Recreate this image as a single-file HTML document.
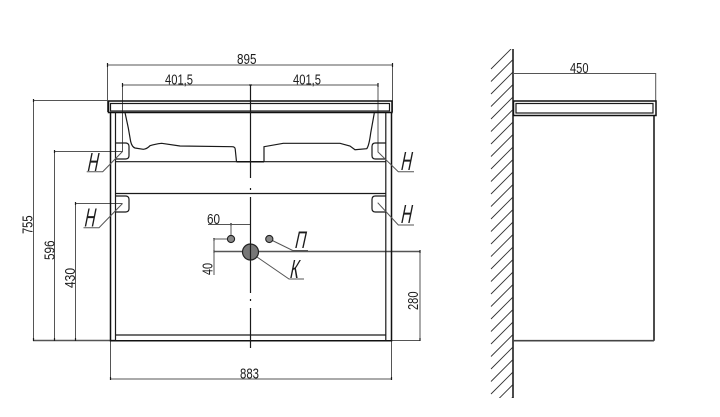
<!DOCTYPE html>
<html>
<head>
<meta charset="utf-8">
<style>
html,body{margin:0;padding:0;background:#fff}
svg{display:block}
text{font-family:"Liberation Sans",sans-serif;fill:#1c1c1c}
.n{font-size:14.500px}
.t{fill:none;stroke:#555;stroke-width:1}
.k{fill:none;stroke:#1a1a1a;stroke-width:1.2}
.b{fill:none;stroke:#111;stroke-width:1.5}
</style>
</head>
<body>
<svg width="720" height="417" viewBox="0 0 720 417" xmlns="http://www.w3.org/2000/svg">
<defs><clipPath id="c"><rect x="485" y="49" width="28" height="349"/></clipPath></defs>

<!-- dimension lines: front -->
<path class="t" d="M107.5 112V65H392.500V112"/>
<path class="t" d="M122.500 152V85H378V152"/>
<path class="t" d="M33.500 340.500V100.500H108"/>
<path class="t" d="M54.500 340.500V151.500H122.500"/>
<path class="t" d="M75.500 340.500V203.500H122.500"/>
<path class="t" d="M33 340.500H116" style="stroke-width:1.400"/>
<path class="t" d="M110.500 340V379H391.500V340"/>
<path class="t" d="M386 340.500H420V251.500"/>
<path class="t" d="M214 251.500H420" style="stroke-width:1.400"/>

<!-- ticks -->
<path class="k" d="M107.500 63v4M392.500 63v4M122.500 83v4M378 83v4M249 85h3M33.500 99v3M54.500 150v3M75.500 202v3M33.500 338v3M54.500 338v3M75.500 338v3M110.500 377v3M391.500 377v3M420 250v3M420 338v3M214 238v3M214 250v3M231 223v3"/>

<!-- worktop -->
<rect class="b" x="108.500" y="101" width="283.500" height="11.500"/>
<rect class="k" x="110.500" y="103.500" width="279" height="7.500"/>

<!-- cabinet -->
<path class="b" d="M110.500 112.500V340.700H391.500V112.500"/>
<path class="k" d="M115.500 112.500V340.500M385.800 112.500V340.500"/>
<path class="k" d="M115.500 335H385.800"/>
<path class="k" d="M115.500 161.700H236.500M264 161.700H385.800"/>
<path class="b" d="M236.500 161.700H264"/>
<path class="k" d="M115.500 193.500H385.800"/>

<!-- basin -->
<path class="k" d="M125 112.500L128.300 128L130.700 141.700Q132 147 135 148L143.300 149.300Q147 149 150 145.700Q155 144 161.700 143.300L180 146L232 146.700Q235 146.700 235.200 149L236.500 161.700M264 161.700L264 146.700L283.300 143.300H340L350 146L355 149.700L366.700 148.700Q369 146 370.700 133L374.300 113"/>

<!-- brackets -->
<path class="k" d="M115.500 143H125.500Q129 143 129 146.500V155.500Q129 159 125.500 159H115.500"/>
<path class="k" d="M115.500 196H125.500Q129 196 129 199.500V208.500Q129 212 125.500 212H115.500"/>
<path class="k" d="M385.500 143H375.500Q372 143 372 146.500V155.500Q372 159 375.500 159H385.500"/>
<path class="k" d="M385.500 196H375.500Q372 196 372 199.500V208.500Q372 212 375.500 212H385.500"/>

<!-- leaders -->
<path class="t" d="M122.500 151.500L102.700 171.700H86.700"/>
<path class="t" d="M122.500 203.500L99 227.700H83.500"/>
<path class="t" d="M377.700 151.700L398.300 171.700H414"/>
<path class="t" d="M377.700 202.700L398.300 225H414"/>
<path class="t" d="M269.300 239L292.700 250.500H308"/>
<path class="t" d="M257 257L289 279H304"/>

<!-- holes -->
<path class="t" d="M208 224.500H250.500M231 224.500V239M214 239V275M214 239H231"/>
<circle cx="250.500" cy="252" r="8" fill="#777" stroke="#222" stroke-width="1.200"/>
<circle cx="231" cy="239" r="3.600" fill="#888" stroke="#222" stroke-width="1.100"/>
<circle cx="269.300" cy="239" r="3.600" fill="#888" stroke="#222" stroke-width="1.100"/>
<!-- centre line -->
<path class="k" d="M250.500 85V178M250.500 188V190M250.500 197V293M250.500 299V301M250.500 308V348"/>

<!-- side view -->
<path class="b" d="M513 49V398"/>
<g clip-path="url(#c)"><path fill="none" stroke="#333" stroke-width="0.9" d="M491 69l21.500-21.500M491 81.500l21.500-21.500M491 94l21.500-21.500M491 106.500l21.500-21.500M491 119l21.500-21.500M491 131.500l21.500-21.500M491 144l21.500-21.500M491 156.500l21.500-21.500M491 169l21.500-21.500M491 181.500l21.500-21.500M491 194l21.500-21.500M491 206.500l21.500-21.500M491 219l21.500-21.500M491 231.500l21.500-21.500M491 244l21.500-21.500M491 256.500l21.500-21.500M491 269l21.500-21.500M491 281.500l21.500-21.500M491 294l21.500-21.500M491 306.500l21.500-21.500M491 319l21.500-21.500M491 331.500l21.500-21.500M491 344l21.500-21.500M491 356.500l21.500-21.500M491 369l21.500-21.500M491 381.500l21.500-21.500M491 394l21.500-21.500M491 406.500l21.500-21.500M491 419l21.500-21.500"/></g>
<path class="t" d="M513 73.500H655.700V101"/>
<rect class="b" x="513.500" y="101" width="142.500" height="14.500"/>
<rect class="k" x="516" y="103.500" width="137" height="9.500"/>
<path class="b" d="M654 115.500V340.700"/>
<path d="M513 340.700H654" fill="none" stroke="#444" stroke-width="1.700"/>

<!-- dimension text -->
<text class="n" x="237" y="64" textLength="19.500" lengthAdjust="spacingAndGlyphs">895</text>
<text class="n" x="165" y="84.500" textLength="28" lengthAdjust="spacingAndGlyphs">401,5</text>
<text class="n" x="293" y="84.500" textLength="28" lengthAdjust="spacingAndGlyphs">401,5</text>
<text class="n" x="570" y="73" textLength="18.500" lengthAdjust="spacingAndGlyphs">450</text>
<text class="n" x="240" y="378.500" textLength="19" lengthAdjust="spacingAndGlyphs">883</text>
<text class="n" x="207" y="224" textLength="13" lengthAdjust="spacingAndGlyphs">60</text>
<text class="n" transform="translate(32.700 234) rotate(-90)" textLength="18.500" lengthAdjust="spacingAndGlyphs">755</text>
<text class="n" transform="translate(54.300 260) rotate(-90)" textLength="19.500" lengthAdjust="spacingAndGlyphs">596</text>
<text class="n" transform="translate(75 288) rotate(-90)" textLength="20" lengthAdjust="spacingAndGlyphs">430</text>
<text class="n" transform="translate(212.500 275) rotate(-90)" textLength="12" lengthAdjust="spacingAndGlyphs">40</text>
<text class="n" transform="translate(418 310) rotate(-90)" textLength="18.500" lengthAdjust="spacingAndGlyphs">280</text>

<!-- letters -->
<g font-size="15">
<text transform="matrix(1 0 -0.35 1.750 86.500 171)">Н</text>
<text transform="matrix(1 0 -0.35 1.750 83.500 226.700)">Н</text>
<text transform="matrix(1 0 -0.35 1.750 400 170)">Н</text>
<text transform="matrix(1 0 -0.35 1.750 400 223)">Н</text>
<text transform="matrix(1 0 -0.35 1.600 294 248)">П</text>
<text transform="matrix(1 0 -0.35 1.750 289 278)">К</text>
</g>
</svg>
</body>
</html>
